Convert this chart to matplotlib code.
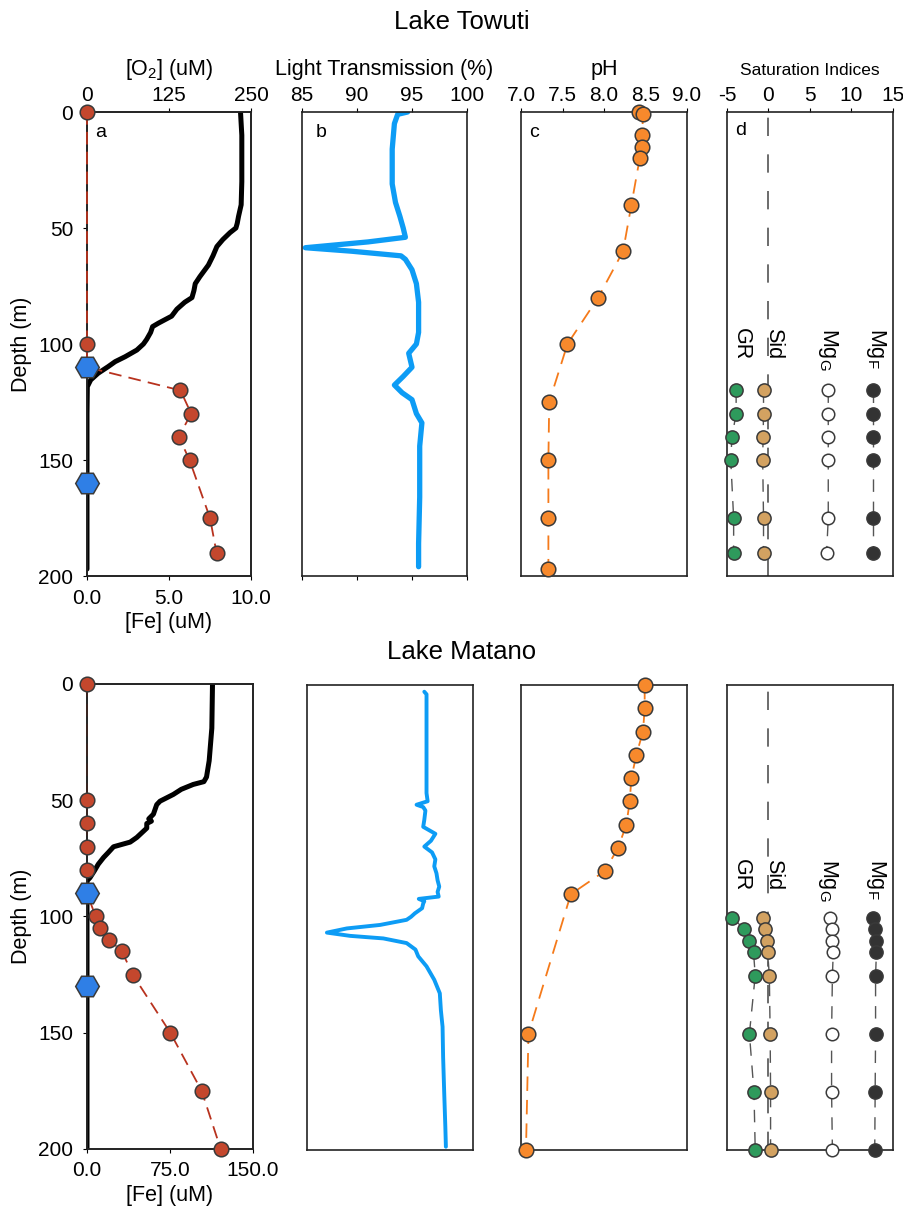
import numpy as np
import matplotlib.pyplot as plt
from matplotlib.ticker import FormatStrFormatter

plt.rcParams['font.family'] = ['Liberation Sans', 'DejaVu Sans']
plt.rcParams['font.size'] = 15
plt.rcParams['axes.unicode_minus'] = False
plt.rcParams['mathtext.fontset'] = 'custom'
plt.rcParams['mathtext.rm'] = 'Liberation Sans'
plt.rcParams['mathtext.it'] = 'Liberation Sans:italic'
plt.rcParams['axes.linewidth'] = 1.2
plt.rcParams['axes.edgecolor'] = '#222222'

# ---- Lake Towuti ----
tow_o2_depth = [0, 5, 10, 20, 30, 40, 45, 48, 50, 52, 55, 58, 62, 66, 71, 74, 77, 80, 82, 85,
                88, 91, 92.5, 95, 98, 100, 102.6, 105.5, 107.6, 109.8, 112.6, 115.5, 118.4, 130, 150, 170, 197]
tow_o2 = [234, 235, 236, 236, 236, 235, 231, 229, 227, 218, 207, 198, 192, 185, 172, 165, 163, 160, 149, 137,
          129, 109, 100, 97, 91, 86, 76, 58, 43, 32, 17, 5.6, 0.5, 0, 0, 0, 0]
tow_fe_depth = [0, 100, 110, 120, 130, 140, 150, 175, 190]
tow_fe = [0, 0, 0, 5.7, 6.35, 5.6, 6.25, 7.5, 7.9]
tow_hex_depth = [110, 160]

tow_lt_depth = [0, 1, 5, 16, 31, 39, 45, 50, 54, 56, 58.5, 60, 62, 63.5, 68, 74, 82, 95, 100, 104, 110,
                114, 117.7, 121, 124, 130, 134, 144, 166, 186, 196]
tow_lt = [94.6, 93.7, 93.4, 93.2, 93.2, 93.5, 93.9, 94.2, 94.4, 91.0, 85.3, 89.5, 94.0, 94.4, 95.0, 95.4, 95.6,
          95.6, 95.4, 94.7, 95.0, 94.2, 93.4, 94.1, 95.0, 95.4, 95.9, 95.7, 95.7, 95.6, 95.6]

tow_ph_depth = [0, 1, 10, 15, 20, 40, 60, 80, 100, 125, 150, 175, 197]
tow_ph = [8.42, 8.47, 8.46, 8.46, 8.43, 8.33, 8.23, 7.93, 7.56, 7.34, 7.33, 7.33, 7.33]

tow_si_depth = [120, 130, 140, 150, 175, 190]
tow_gr = [-3.9, -3.9, -4.4, -4.55, -4.2, -4.2]
tow_sid = [-0.6, -0.6, -0.65, -0.7, -0.6, -0.6]
tow_mgg = [7.2, 7.2, 7.2, 7.2, 7.2, 7.0]
tow_mgf = [12.6, 12.6, 12.6, 12.6, 12.6, 12.6]

# ---- Lake Matano ----
mat_o2_depth = [0, 19, 26, 33, 40, 42, 43.2, 45.3, 47.5, 50.4, 51.9, 56, 58, 59, 60, 62, 66, 68, 70,
                72.5, 74.6, 77.5, 80.4, 83.3, 84.7, 120, 160, 200]
mat_o2 = [189, 188, 186, 184, 180, 176, 160, 142, 130, 110, 105, 100, 93, 97, 90, 90, 75, 65, 40,
          32, 25, 17, 11, 4.5, 0, 0, 0, 0]
mat_fe_depth = [0, 50, 60, 70, 80, 90, 100, 105, 110, 115, 125, 150, 175, 200]
mat_fe = [0, 0, 0, 0, 0, 0, 7.8, 11.7, 20.2, 31.6, 41.3, 75.3, 103.6, 120.8]
mat_hex_depth = [90, 130]

mat_lt_depth = [2.9, 4, 18, 35, 46.5, 50, 51.5, 52.5, 54, 58, 61, 64, 67, 69.5, 72, 75, 78, 81, 84, 86.7,
                89, 91, 92, 93, 94, 96, 98.2, 99.7, 101, 103.2, 104.7, 106.5, 107.9, 109, 111, 113.8,
                116.7, 121, 126.8, 132.6, 140, 147, 160, 175.6, 190, 198.6]
mat_lt = [95.6, 95.8, 95.8, 95.8, 95.8, 95.9, 94.9, 95.5, 95.7, 95.6, 95.5, 96.6, 96.2, 95.6, 96.3, 96.6,
          96.5, 96.7, 96.8, 96.95, 96.8, 96.9, 95.1, 95.6, 95.5, 95.4, 94.75, 94.4, 94.0, 91.6, 88.6,
          86.8, 88.9, 91.9, 94.0, 94.8, 95.05, 95.8, 96.5, 97.0, 97.1, 97.25, 97.3, 97.4, 97.5, 97.55]

mat_ph_depth = [0, 10, 20, 30, 40, 50, 60, 70, 80, 90, 150, 200]
mat_ph = [8.49, 8.49, 8.47, 8.39, 8.33, 8.31, 8.27, 8.17, 8.01, 7.6, 7.09, 7.06]

mat_si_depth = [100, 105, 110, 115, 125, 150, 175, 200]
mat_gr = [-4.4, -2.9, -2.3, -1.8, -1.6, -2.3, -1.75, -1.6]
mat_sid = [-0.7, -0.4, -0.2, -0.1, 0.1, 0.2, 0.25, 0.25]
mat_mgg = [7.4, 7.6, 7.7, 7.8, 7.7, 7.6, 7.6, 7.7]
mat_mgf = [12.55, 12.8, 13.0, 13.0, 12.9, 12.9, 12.85, 12.8]

depth_ticks = [0, 50, 100, 150, 200]
o2_ticks = [0, 125, 250]
lt_ticks = [85, 90, 95, 100]
ph_ticks = [7.0, 7.5, 8.0, 8.5, 9.0]
si_ticks = [-5, 0, 5, 10, 15]

FE_RED = '#c4472d'
FE_LINE = '#b8321e'
HEX_BLUE = '#2f7fe6'
LT_BLUE = '#0d9cf5'
PH_ORANGE = '#f7892c'
PH_LINE = '#f57a1a'
EDGE = '#3a3a3a'
LABEL_FS = 15.5

fig = plt.figure(figsize=(9.04, 12.08), dpi=100)
W, H = 904.0, 1208.0


def rect(x0, x1, ytop, ybot):
    return [x0 / W, 1 - ybot / H, (x1 - x0) / W, (ybot - ytop) / H]


def depth_axis(ax):
    ax.set_ylim(200, 0)
    ax.tick_params(axis='y', left=False, labelleft=False)


def top_axis(ax, label, fs=LABEL_FS, bottom_ticks=False):
    ax.tick_params(axis='x', top=True, labeltop=True, bottom=bottom_ticks, labelbottom=False,
                   direction='out', length=3, pad=2)
    ax.xaxis.set_label_position('top')
    ax.set_xlabel(label, labelpad=8, fontsize=fs)


def letter(ax, s, x, y):
    ax.text(x, y, s, transform=ax.transAxes, fontsize=14, va='center', ha='left')


def panel_a(r, o2_d, o2_v, fe_d, fe_v, hex_d, fe_max, fe_ticks, top, red_z):
    ax = fig.add_axes(r)
    ax2 = ax.twiny()
    ax.set_zorder(ax2.get_zorder() + 1)
    ax.patch.set_visible(False)
    ax2.plot(o2_v, o2_d, color='black', lw=3.6, solid_capstyle='round')
    ax2.set_xlim(0, 250)
    if top:
        ax2.set_xticks(o2_ticks)
        ax2.set_xlabel('[O$_2$] (uM)', labelpad=8, fontsize=LABEL_FS)
        ax2.tick_params(axis='x', direction='out', length=3, pad=2)
    else:
        ax2.set_xticks([])
    ax.plot(fe_v, fe_d, color=FE_LINE, lw=1.3, ls=(0, (7, 4)), zorder=red_z, clip_on=False)
    ax.plot(fe_v, fe_d, 'o', ms=10.5, mfc=FE_RED, mec=EDGE, mew=1.1, zorder=4, clip_on=False)
    ax.plot([0] * len(hex_d), hex_d, 'H', ms=17, mfc=HEX_BLUE, mec=EDGE, mew=1.1, zorder=5,
            clip_on=False)
    ax.set_xlim(0, fe_max)
    ax.set_xticks(fe_ticks)
    ax.xaxis.set_major_formatter(FormatStrFormatter('%.1f'))
    ax.set_xlabel('[Fe] (uM)', labelpad=3, fontsize=LABEL_FS)
    ax.set_ylim(200, 0)
    ax.set_yticks(depth_ticks)
    ax.set_ylabel('Depth (m)', labelpad=4.5, fontsize=LABEL_FS)
    ax.tick_params(axis='x', direction='out', length=3, pad=6)
    ax.tick_params(axis='y', direction='out', length=3, pad=7)
    return ax


def panel_lt(r, d, v, top, lw):
    ax = fig.add_axes(r)
    ax.plot(v, d, color=LT_BLUE, lw=lw, solid_capstyle='round', solid_joinstyle='round')
    ax.set_xlim(85, 100)
    depth_axis(ax)
    if top:
        ax.set_xticks(lt_ticks)
        top_axis(ax, 'Light Transmission (%)', bottom_ticks=True)
    else:
        ax.set_xticks([])
    return ax


def panel_ph(r, d, v, top):
    ax = fig.add_axes(r)
    ax.plot(v, d, color=PH_LINE, lw=1.3, ls=(0, (8, 5)), zorder=2, clip_on=False)
    ax.plot(v, d, 'o', ms=10.5, mfc=PH_ORANGE, mec=EDGE, mew=1.1, zorder=4, clip_on=False)
    ax.set_xlim(7, 9)
    depth_axis(ax)
    if top:
        ax.set_xticks(ph_ticks)
        ax.xaxis.set_major_formatter(FormatStrFormatter('%.1f'))
        top_axis(ax, 'pH')
    else:
        ax.set_xticks([])
    return ax


def panel_si(r, d, gr, sid, mgg, mgf, top, lab_depth):
    ax = fig.add_axes(r)
    ax.axvline(0, color='#444444', lw=1.1, ls=(0, (12, 12)), zorder=1)
    series = [(gr, '#2e9a5c', 9.5), (sid, '#d3a261', 9.5), (mgg, 'white', 9), (mgf, '#333333', 9.5)]
    for vals, col, ms in series:
        ax.plot(vals, d, color='#555555', lw=1.0, ls=(0, (9, 7)), zorder=2, clip_on=False)
        ax.plot(vals, d, 'o', ms=ms, mfc=col, mec=EDGE, mew=1.1, zorder=4, clip_on=False)
    labels = [('GR', -3.3), ('Sid', 0.6), (r'Mg$_\mathrm{G}$', 7.2), (r'Mg$_\mathrm{F}$', 13.0)]
    for s, x in labels:
        ax.text(x, lab_depth, s, rotation=-90, ha='center', va='top', fontsize=15.5)
    ax.set_xlim(-5, 15)
    depth_axis(ax)
    if top:
        ax.set_xticks(si_ticks)
        top_axis(ax, 'Saturation Indices', fs=12.5)
    else:
        ax.set_xticks([])
    return ax


# top row: Lake Towuti
ta = panel_a(rect(87, 251, 112, 576), tow_o2_depth, tow_o2, tow_fe_depth, tow_fe, tow_hex_depth,
             10, [0, 5, 10], True, 3)
tb = panel_lt(rect(302, 467, 112, 576), tow_lt_depth, tow_lt, True, 3.8)
tc = panel_ph(rect(521, 687, 112, 576), tow_ph_depth, tow_ph, True)
td = panel_si(rect(727, 893, 112, 576), tow_si_depth, tow_gr, tow_sid, tow_mgg, tow_mgf, True, 93)
letter(ta, 'a', 0.05, 0.955)
letter(tb, 'b', 0.08, 0.955)
letter(tc, 'c', 0.05, 0.955)
letter(td, 'd', 0.05, 0.961)

# bottom row: Lake Matano
ba = panel_a(rect(87, 253, 684, 1149), mat_o2_depth, mat_o2, mat_fe_depth, mat_fe, mat_hex_depth,
             150, [0, 75, 150], False, 2)
bb = panel_lt(rect(307, 473, 685, 1150), mat_lt_depth, mat_lt, False, 2.8)
bc = panel_ph(rect(521, 687, 685, 1150), mat_ph_depth, mat_ph, False)
bd = panel_si(rect(727, 893, 685, 1150), mat_si_depth, mat_gr, mat_sid, mat_mgg, mat_mgf, False, 75)

fig.text(462 / W, 1 - 22 / H, 'Lake Towuti', ha='center', va='center', fontsize=18.5)
fig.text(462 / W, 1 - 652 / H, 'Lake Matano', ha='center', va='center', fontsize=18.5)

fig.savefig('out.png', dpi=100)
